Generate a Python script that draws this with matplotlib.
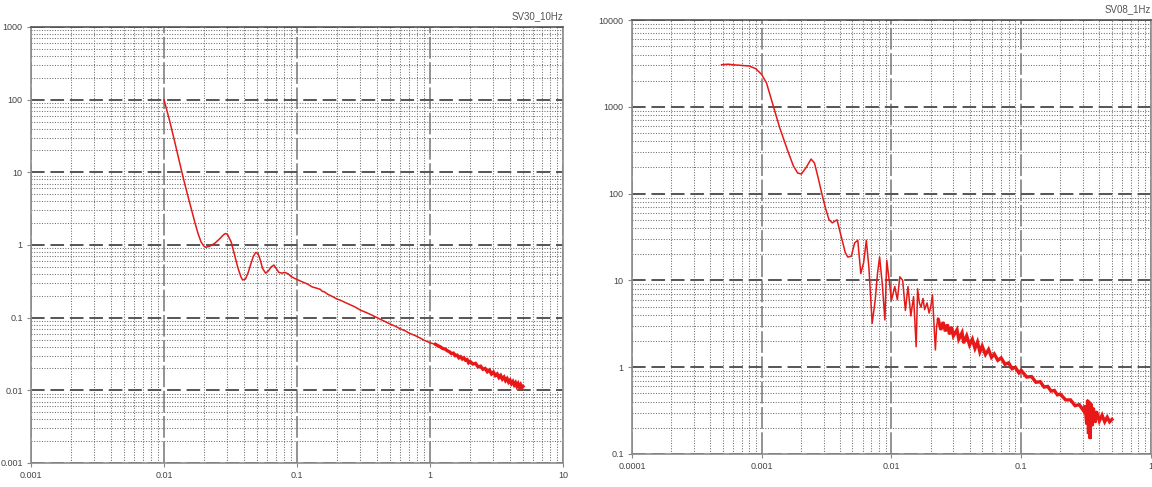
import matplotlib
matplotlib.use("Agg")
import matplotlib.pyplot as plt
from matplotlib.ticker import LogLocator, FuncFormatter, NullFormatter

# left panel: SV30_10Hz
freq_10hz = [0.010, 0.011, 0.012, 0.013, 0.014, 0.015, 0.016, 0.017, 0.018, 0.019,
             0.020, 0.0206, 0.022, 0.024, 0.026, 0.028, 0.029, 0.030, 0.032, 0.034,
             0.036, 0.038, 0.039, 0.041, 0.043, 0.045, 0.047, 0.049, 0.051, 0.053,
             0.055, 0.058, 0.061, 0.064, 0.067, 0.070, 0.073, 0.077, 0.081, 0.086,
             0.090, 0.095, 0.10, 0.11, 0.12, 0.13, 0.14, 0.15, 0.155, 0.16,
             0.17, 0.18, 0.19, 0.20, 0.21, 0.23, 0.25, 0.27, 0.30, 0.33,
             0.36, 0.40, 0.45, 0.50, 0.55, 0.60, 0.65, 0.70, 0.75, 0.80,
             0.85, 0.90, 0.95, 1.0, 1.1, 1.15, 1.2, 1.25, 1.3, 1.35,
             1.4, 1.45, 1.5, 1.55, 1.6, 1.65, 1.7, 1.75, 1.8, 1.85,
             1.9, 1.95, 2.0, 2.1, 2.2, 2.3, 2.4, 2.5, 2.6, 2.7,
             2.8, 2.9, 3.0, 3.1, 3.2, 3.3, 3.4, 3.5, 3.6, 3.7,
             3.8, 3.9, 4.0, 4.1, 4.2, 4.3, 4.4, 4.5, 4.6, 4.7,
             4.8, 4.9, 5.0]
amp_10hz = [100, 52, 27, 14.5, 8.2, 5.0, 3.2, 2.1, 1.45, 1.1,
            0.96, 0.93, 0.96, 1.05, 1.2, 1.38, 1.44, 1.40, 1.1, 0.72,
            0.48, 0.36, 0.33, 0.34, 0.42, 0.55, 0.70, 0.79, 0.76, 0.62,
            0.48, 0.41, 0.44, 0.50, 0.53, 0.47, 0.42, 0.41, 0.42, 0.40,
            0.37, 0.35, 0.335, 0.31, 0.29, 0.265, 0.255, 0.245, 0.23, 0.228,
            0.21, 0.20, 0.19, 0.18, 0.175, 0.162, 0.151, 0.142, 0.127, 0.118,
            0.11, 0.10, 0.09, 0.082, 0.076, 0.070, 0.066, 0.061, 0.058, 0.055,
            0.052, 0.049, 0.047, 0.045, 0.043, 0.041, 0.0395, 0.0375, 0.037, 0.035,
            0.034, 0.032, 0.0325, 0.030, 0.0305, 0.028, 0.029, 0.027, 0.028, 0.026,
            0.0265, 0.024, 0.025, 0.023, 0.0235, 0.021, 0.0215, 0.0195, 0.020, 0.018,
            0.019, 0.0168, 0.0178, 0.016, 0.0168, 0.015, 0.016, 0.0143, 0.0152, 0.0136,
            0.0145, 0.013, 0.0138, 0.0124, 0.0132, 0.0119, 0.0127, 0.0114, 0.0123, 0.0111,
            0.0119, 0.0108, 0.0113]

# right panel: SV08_1Hz
freq_1hz = [0.00049, 0.00055, 0.0006, 0.0007, 0.0008, 0.0009, 0.001, 0.00109, 0.00121, 0.00137,
            0.00158, 0.00175, 0.00189, 0.00202, 0.0022, 0.0024, 0.00255, 0.0027, 0.0029, 0.0031,
            0.0033, 0.0035, 0.0038, 0.0041, 0.0044, 0.0046, 0.0049, 0.0052, 0.0055, 0.0058,
            0.0061, 0.0064, 0.0067, 0.0071, 0.0075, 0.0078, 0.0081, 0.0085, 0.0089, 0.0092,
            0.0096, 0.0100, 0.0106, 0.0111, 0.0116, 0.0122, 0.0128, 0.0134, 0.0141, 0.0148,
            0.0155, 0.0159, 0.0164, 0.0169, 0.0175, 0.0180, 0.0188, 0.0195, 0.0201, 0.0207,
            0.0213, 0.0218, 0.0223, 0.0228,
            0.023, 0.024, 0.025, 0.026, 0.027, 0.028, 0.029, 0.030, 0.032, 0.033,
            0.035, 0.036, 0.038, 0.040, 0.042, 0.044, 0.046, 0.048, 0.050, 0.053,
            0.056, 0.059, 0.062, 0.066, 0.070, 0.075, 0.080, 0.085, 0.090, 0.096,
            0.10, 0.11, 0.12, 0.13, 0.14, 0.15, 0.16, 0.17, 0.18, 0.19,
            0.20, 0.22, 0.24, 0.26, 0.28, 0.30, 0.31, 0.32, 0.325, 0.33,
            0.335, 0.34, 0.345, 0.35, 0.36, 0.37, 0.38, 0.40, 0.42, 0.44,
            0.46, 0.48, 0.50]
amp_1hz = [3050, 3100, 3050, 3000, 2950, 2750, 2350, 1870, 1100, 585,
           316, 210, 173, 168, 200, 250, 225, 160, 101, 68,
           50, 46, 50, 32, 21, 18.6, 19, 27, 29, 12,
           16, 29, 14, 3.2, 6, 12, 18.6, 9, 3.5, 17,
           10, 5.9, 8.5, 6, 11, 10, 4.5, 8.5, 3.9, 6.5,
           1.72, 8, 5.5, 4.9, 6.2, 4.6, 5.5, 4.2, 5.0, 6.8,
           3.0, 1.58, 3.0, 3.7,
           3.5, 2.7, 3.3, 2.6, 3.1, 2.4, 2.9, 2.3, 2.7, 2.1,
           2.5, 1.9, 2.3, 1.8, 2.1, 1.65, 1.95, 1.5, 1.75, 1.4,
           1.6, 1.3, 1.42, 1.2, 1.28, 1.08, 1.12, 0.96, 1.0, 0.86,
           0.92, 0.77, 0.78, 0.67, 0.68, 0.59, 0.60, 0.53, 0.54, 0.48,
           0.49, 0.42, 0.42, 0.36, 0.37, 0.32, 0.36, 0.22, 0.42, 0.17,
           0.40, 0.15, 0.38, 0.21, 0.34, 0.23, 0.31, 0.24, 0.28, 0.235,
           0.265, 0.235, 0.25]

panels = [
    ("SV30_10Hz", freq_10hz, amp_10hz, 1.1, (0.001, 10), (0.001, 1000),
     [0.0269, 0.0493, 0.4618, 0.8953]),
    ("SV08_1Hz", freq_1hz, amp_1hz, 0.023, (0.0001, 1), (0.1, 10000),
     [0.5486, 0.0678, 0.4505, 0.8911]),
]

fig = plt.figure(figsize=(11.52, 4.87), dpi=100)
label_font = ["Liberation Sans Narrow", "Liberation Sans", "DejaVu Sans"]

for title, xs, ys, noisy_from, xlim, ylim, rect in panels:
    ax = fig.add_axes(rect)
    ax.set_xscale("log")
    ax.set_yscale("log")
    ax.set_xlim(*xlim)
    ax.set_ylim(*ylim)

    for axis in (ax.xaxis, ax.yaxis):
        axis.set_major_locator(LogLocator(base=10, numticks=20))
        axis.set_minor_locator(LogLocator(base=10, subs=range(2, 10), numticks=20))
        axis.set_major_formatter(FuncFormatter(lambda v, p: "%g" % v))
        axis.set_minor_formatter(NullFormatter())

    ax.grid(which="minor", axis="both", color="#6e6e6e", linestyle=(0, (1, 1.5)), linewidth=0.75)
    ax.grid(which="major", axis="y", color="#555555", linestyle=(0, (7, 3)), linewidth=1.4)
    ax.grid(which="major", axis="x", color="#8a8a8a", linestyle=(0, (12, 2)), linewidth=1.3)
    ax.set_axisbelow(True)

    ax.plot(xs, ys, color="#e31a1a", linewidth=1.1)
    # the noisy high-frequency tail is drawn as a thicker band
    tail = [i for i, x in enumerate(xs) if x >= noisy_from]
    ax.plot([xs[i] for i in tail], [ys[i] for i in tail],
            color="#e81818", linewidth=2.4, solid_joinstyle="miter")

    for s in ax.spines.values():
        s.set_color("#8c8c8c")
        s.set_linewidth(1.2)
    ax.spines["top"].set_color("#555555")

    ax.tick_params(which="major", length=3, color="#888888", labelsize=6.5,
                   labelcolor="#444444", pad=3)
    ax.tick_params(which="minor", length=0)
    for lab in ax.get_xticklabels() + ax.get_yticklabels():
        lab.set_family(label_font)

    ax.set_title(title, loc="right", fontsize=7, color="#555555",
                 family=label_font, pad=6)

fig.savefig("out.png", dpi=100)
